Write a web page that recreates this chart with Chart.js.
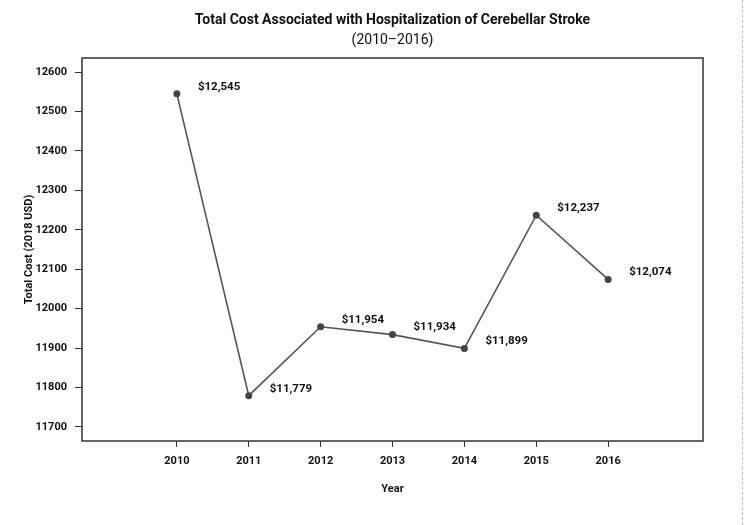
<!DOCTYPE html>
<html>
<head>
<meta charset="utf-8">
<script src="https://cdn.jsdelivr.net/npm/chart.js@4"></script>
<style>
  html, body { margin: 0; padding: 0; background: #fff; }
  #wrap { position: relative; width: 750px; height: 525px; }
  #dash { position: absolute; left: 742px; top: 0; width: 0; height: 525px; border-left: 1px dashed #bbbbbb; }
</style>
</head>
<body>
<div id="wrap">
  <canvas id="c" width="750" height="525"></canvas>
  <div id="dash"></div>
</div>
<script>
const years = [2010, 2011, 2012, 2013, 2014, 2015, 2016];
const totalCost = [12545, 11779, 11954, 11934, 11899, 12237, 12074];
const yTicks = [11700, 11800, 11900, 12000, 12100, 12200, 12300, 12400, 12500, 12600];
const titleLines = ['Total Cost Associated with Hospitalization of Cerebellar Stroke', '(2010\u20132016)'];
const xTitle = 'Year';
const yTitle = 'Total Cost (2018 USD)';

const FONT = "Roboto, 'Liberation Sans', sans-serif";

const boxAndLabels = {
  id: 'boxAndLabels',
  afterDraw(chart) {
    const ctx = chart.ctx;
    const a = chart.chartArea;
    ctx.save();
    ctx.strokeStyle = '#333';
    ctx.lineWidth = 1.5;
    ctx.strokeRect(a.left, a.top, a.right - a.left, a.bottom - a.top);
    // data labels
    const meta = chart.getDatasetMeta(0);
    ctx.fillStyle = '#111';
    ctx.font = 'bold 11.5px ' + FONT;
    ctx.textAlign = 'left';
    ctx.textBaseline = 'middle';
    meta.data.forEach((pt, i) => {
      const v = totalCost[i];
      ctx.fillText('$' + v.toLocaleString('en-US'), pt.x + 21, pt.y - 7);
    });
    // title
    const cx = (a.left + a.right) / 2;
    ctx.textAlign = 'center';
    ctx.font = 'bold 14px ' + FONT;
    ctx.fillText(titleLines[0], cx, 20);
    ctx.font = '14px ' + FONT;
    ctx.fillText(titleLines[1], cx, 40);
    ctx.restore();
  }
};

new Chart(document.getElementById('c'), {
  type: 'line',
  data: {
    datasets: [{
      data: years.map((y, i) => ({ x: y, y: totalCost[i] })),
      borderColor: '#555',
      borderWidth: 1.6,
      pointRadius: 3.5,
      pointBackgroundColor: '#444',
      pointBorderColor: '#444',
      pointBorderWidth: 0,
      tension: 0
    }]
  },
  options: {
    responsive: false,
    animation: false,
    layout: { padding: { left: 0, right: 47, top: 58, bottom: 0 } },
    plugins: { legend: { display: false }, tooltip: { enabled: false }, title: { display: false } },
    scales: {
      x: {
        type: 'linear',
        min: 2008.68,
        max: 2017.32,
        afterBuildTicks: s => { s.ticks = years.map(v => ({ value: v })); },
        afterFit: s => { s.height = 84; },
        grid: { drawOnChartArea: false, drawTicks: true, tickLength: 6, tickColor: '#333', lineWidth: 1 },
        border: { display: false },
        ticks: { autoSkip: false, maxRotation: 0, padding: 8, color: '#111',
                 font: { family: FONT, size: 11, weight: 'bold' },
                 callback: v => String(v) },
        title: { display: true, text: xTitle, color: '#111',
                 font: { family: FONT, size: 11, weight: 'bold' },
                 padding: { top: 0, bottom: 29 } }
      },
      y: {
        type: 'linear',
        min: 11664,
        max: 12636,
        afterBuildTicks: s => { s.ticks = yTicks.map(v => ({ value: v })); },
        afterFit: s => { s.width = 82; },
        grid: { drawOnChartArea: false, drawTicks: true, tickLength: 7, tickColor: '#333', lineWidth: 1 },
        border: { display: false },
        ticks: { autoSkip: false, padding: 8, color: '#111',
                 font: { family: FONT, size: 11, weight: 'bold' },
                 callback: v => String(v) },
        title: { display: true, text: yTitle, color: '#111',
                 font: { family: FONT, size: 11, weight: 'bold' },
                 padding: { top: 23, bottom: 0 } }
      }
    }
  },
  plugins: [boxAndLabels]
});
</script>
</body>
</html>
